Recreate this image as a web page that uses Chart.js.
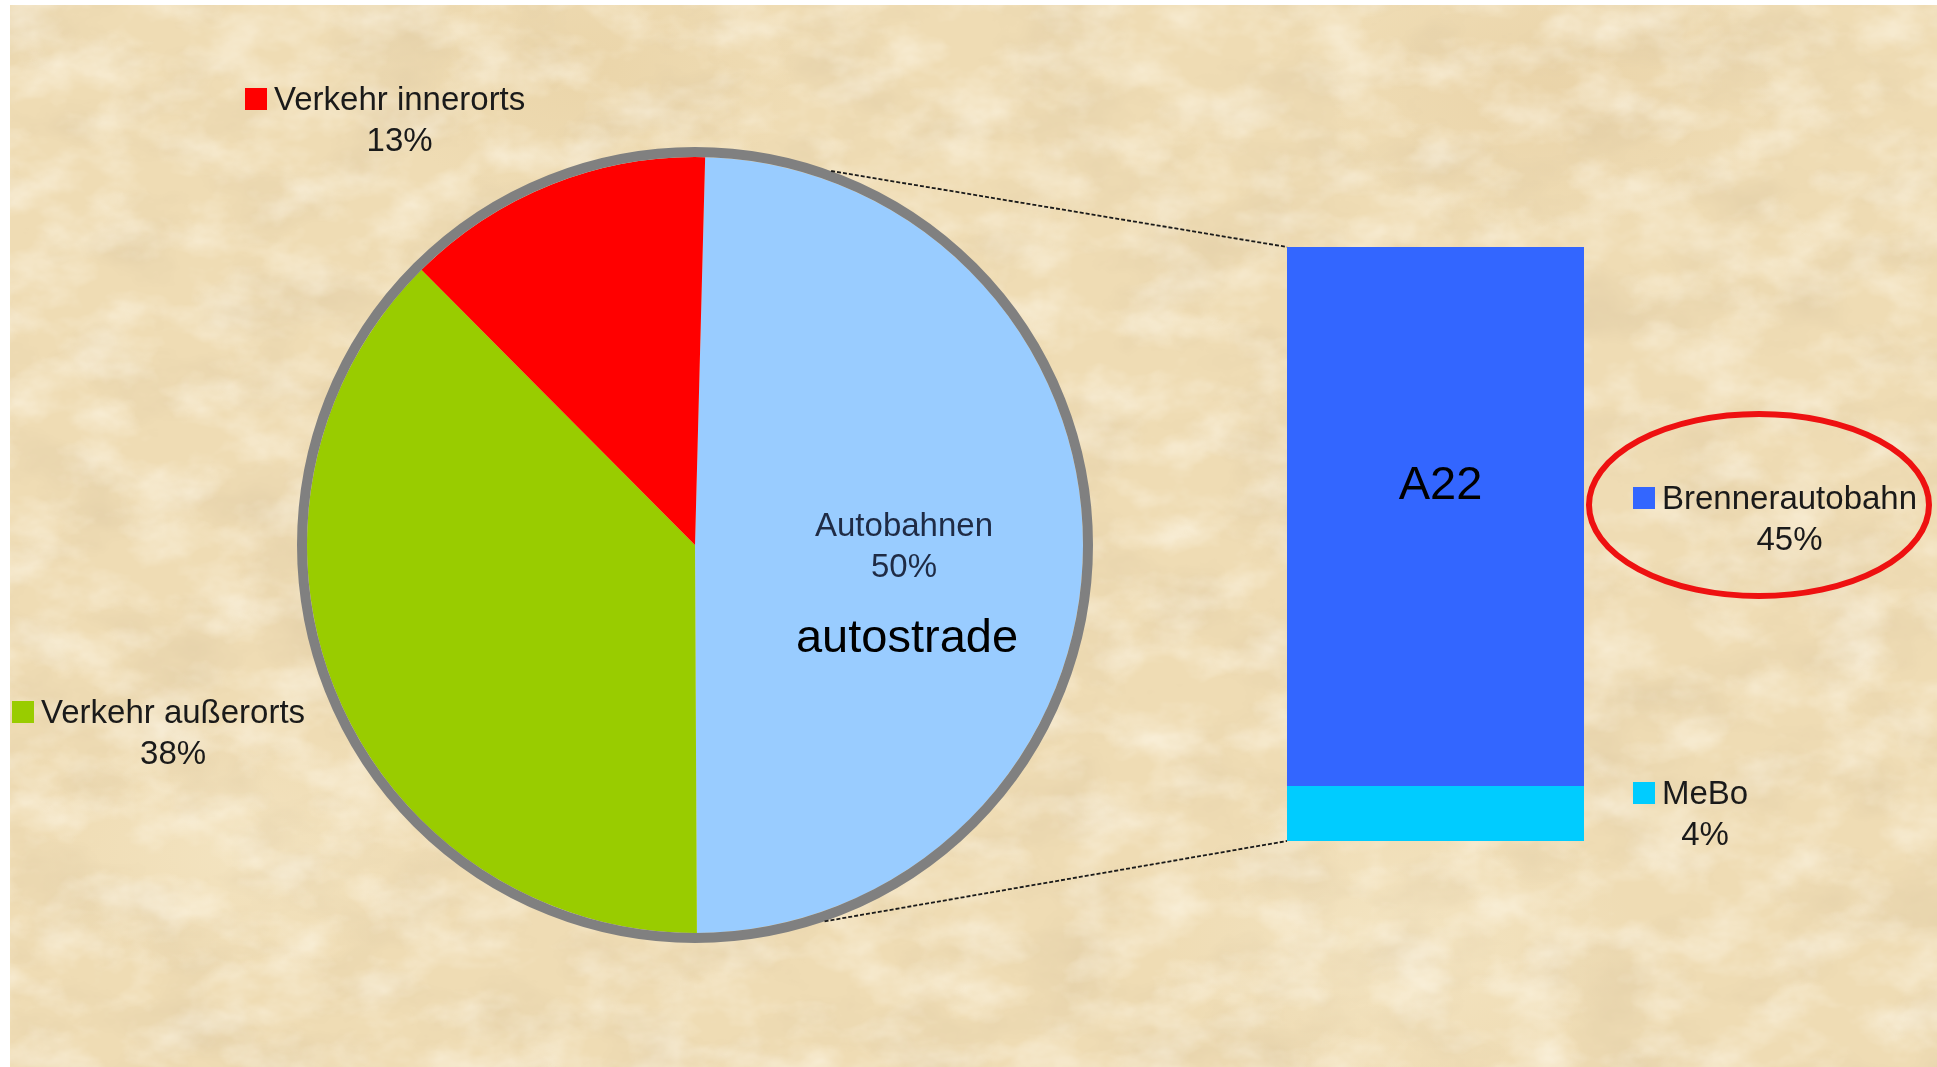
<!DOCTYPE html>
<html>
<head>
<meta charset="utf-8">
<script src="https://cdn.jsdelivr.net/npm/chart.js@4.4.1/dist/chart.umd.min.js"></script>
<style>
  html, body { margin: 0; padding: 0; background: #ffffff; overflow: hidden; }
  #paper {
    position: absolute; left: 10px; top: 5px; width: 1927px; height: 1062px;
    background-color: #efdcb4;
    background-image:
      url("data:image/svg+xml,%3Csvg xmlns='http://www.w3.org/2000/svg' width='1927' height='1062'%3E%3Cfilter id='d'%3E%3CfeTurbulence type='fractalNoise' baseFrequency='0.009 0.015' numOctaves='5' seed='4'/%3E%3CfeColorMatrix values='0 0 0 0 0.72 0 0 0 0 0.58 0 0 0 0 0.36 1.1 0 0 0 -0.48'/%3E%3C/filter%3E%3Cfilter id='l'%3E%3CfeTurbulence type='fractalNoise' baseFrequency='0.016 0.024' numOctaves='4' seed='11'/%3E%3CfeColorMatrix values='0 0 0 0 1 0 0 0 0 0.96 0 0 0 0 0.86 1.1 0 0 0 -0.45'/%3E%3C/filter%3E%3Crect width='100%25' height='100%25' filter='url(%23d)'/%3E%3Crect width='100%25' height='100%25' filter='url(%23l)'/%3E%3C/svg%3E"),
      radial-gradient(ellipse 300px 200px at 30% 6%, rgba(226,200,150,0.35), transparent 70%),
      radial-gradient(ellipse 320px 200px at 80% 8%, rgba(224,196,148,0.35), transparent 70%),
      radial-gradient(ellipse 300px 180px at 12% 80%, rgba(248,236,206,0.45), transparent 70%),
      radial-gradient(ellipse 340px 220px at 72% 88%, rgba(249,238,210,0.45), transparent 70%);
  }
  canvas { position: absolute; left: 0; top: 0; }
</style>
</head>
<body>
<div id="paper"></div>
<canvas id="pieCanvas" width="1937" height="1067"></canvas>
<canvas id="barCanvas" width="1937" height="1067"></canvas>
<script>
// pie: share of traffic, clockwise from the top
const pieLabels = ['Autobahnen', 'Verkehr außerorts', 'Verkehr innerorts'];
const pieValues = [50, 38, 13];
const pieColors = ['#99ccff', '#99cc00', '#ff0000'];

// bar: split of the motorway share (top to bottom)
const barLabels = ['Brennerautobahn', 'MeBo'];
const barValues = [45.4, 4.6];
const barPercents = ['45%', '4%'];
const barColors = ['#3366ff', '#00ccff'];

const FONT = '"Liberation Sans", Arial, sans-serif';
Chart.defaults.font.family = FONT;

function keyLabel(ctx, color, name, pct, x, y) {
  ctx.save();
  ctx.font = '33px ' + FONT;
  ctx.textBaseline = 'middle';
  ctx.fillStyle = color;
  ctx.fillRect(x, y - 11, 22, 22);
  const tx = x + 29;
  const w = ctx.measureText(name).width;
  ctx.fillStyle = '#1a1a1a';
  ctx.textAlign = 'left';
  ctx.fillText(name, tx, y + 2);
  ctx.textAlign = 'center';
  ctx.fillText(pct, tx + w / 2, y + 43);
  ctx.restore();
}

const pieDecor = {
  id: 'pieDecor',
  afterDatasetsDraw(chart) {
    const ctx = chart.ctx;
    const arc = chart.getDatasetMeta(0).data[0];
    ctx.save();
    ctx.beginPath();
    ctx.arc(arc.x, arc.y, arc.outerRadius + 5, 0, Math.PI * 2);
    ctx.lineWidth = 10;
    ctx.strokeStyle = '#808080';
    ctx.stroke();
    ctx.restore();

    // labels
    keyLabel(ctx, pieColors[2], pieLabels[2], pieValues[2] + '%', 245, 99);
    keyLabel(ctx, pieColors[1], pieLabels[1], pieValues[1] + '%', 12, 712);

    ctx.save();
    ctx.textAlign = 'center';
    ctx.textBaseline = 'middle';
    ctx.font = '33px ' + FONT;
    ctx.fillStyle = '#1f2b45';
    ctx.fillText(pieLabels[0], 904, 527);
    ctx.fillText(pieValues[0] + '%', 904, 568);
    ctx.font = '47px ' + FONT;
    ctx.fillStyle = '#000000';
    ctx.fillText('autostrade', 907, 639);
    ctx.restore();
  }
};

const pieChart = new Chart(document.getElementById('pieCanvas'), {
  type: 'pie',
  data: {
    labels: pieLabels,
    datasets: [{ data: pieValues, backgroundColor: pieColors, borderWidth: 0 }]
  },
  options: {
    responsive: false,
    animation: false,
    rotation: 1.5,
    layout: { padding: { left: 307, top: 157, right: 854, bottom: 134 } },
    plugins: { legend: { display: false }, tooltip: { enabled: false } }
  },
  plugins: [pieDecor]
});

const barDecor = {
  id: 'barDecor',
  afterDatasetsDraw(chart) {
    const ctx = chart.ctx;
    const bottomBar = chart.getDatasetMeta(0).data[0];
    const topBar = chart.getDatasetMeta(1).data[0];
    const left = topBar.x - topBar.width / 2;
    const arc = pieChart.getDatasetMeta(0).data[0];
    const r = arc.outerRadius + 10;
    const a1 = 20 * Math.PI / 180, a2 = 161 * Math.PI / 180;

    ctx.save();
    ctx.strokeStyle = '#1a1a1a';
    ctx.lineWidth = 1.8;
    ctx.setLineDash([4, 2]);
    ctx.beginPath();
    ctx.moveTo(arc.x + r * Math.sin(a1), arc.y - r * Math.cos(a1));
    ctx.lineTo(left, topBar.y);
    ctx.moveTo(arc.x + r * Math.sin(a2), arc.y - r * Math.cos(a2));
    ctx.lineTo(left, bottomBar.base);
    ctx.stroke();
    ctx.restore();

    ctx.save();
    ctx.font = '47px ' + FONT;
    ctx.fillStyle = '#000000';
    ctx.textAlign = 'center';
    ctx.textBaseline = 'middle';
    ctx.fillText('A22', topBar.x + 5, 486);
    ctx.restore();

    keyLabel(ctx, barColors[0], barLabels[0], barPercents[0], 1633, 498);
    keyLabel(ctx, barColors[1], barLabels[1], barPercents[1], 1633, 793);

    // red highlight ellipse
    ctx.save();
    ctx.beginPath();
    ctx.ellipse(1759, 505, 170, 91, 0, 0, Math.PI * 2);
    ctx.lineWidth = 6;
    ctx.strokeStyle = '#ee1111';
    ctx.stroke();
    ctx.restore();
  }
};

new Chart(document.getElementById('barCanvas'), {
  type: 'bar',
  data: {
    labels: ['Autobahnen'],
    datasets: [
      { label: barLabels[1], data: [barValues[1]], backgroundColor: barColors[1] },
      { label: barLabels[0], data: [barValues[0]], backgroundColor: barColors[0] }
    ]
  },
  options: {
    responsive: false,
    animation: false,
    layout: { padding: { left: 1287, right: 353, top: 247, bottom: 226 } },
    datasets: { bar: { barPercentage: 1, categoryPercentage: 1, borderWidth: 0 } },
    scales: {
      x: { stacked: true, display: false },
      y: { stacked: true, display: false, min: 0, max: 50 }
    },
    plugins: { legend: { display: false }, tooltip: { enabled: false } }
  },
  plugins: [barDecor]
});
</script>
</body>
</html>
